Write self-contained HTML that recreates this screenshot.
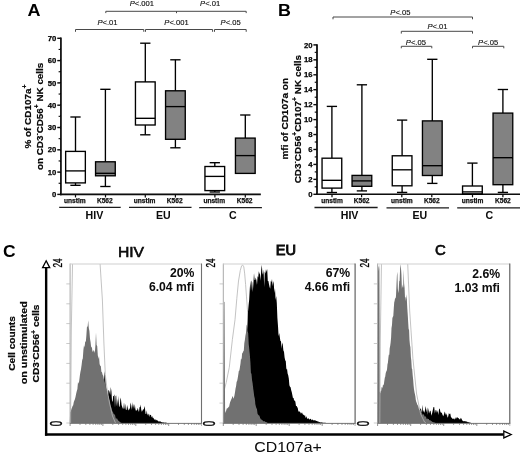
<!DOCTYPE html>
<html><head><meta charset="utf-8"><title>Figure</title>
<style>html,body{margin:0;padding:0;background:#fff;}svg{display:block;will-change:transform;}</style>
</head><body>
<svg width="520" height="453" viewBox="0 0 520 453" font-family='"Liberation Sans", Arial, sans-serif'>
<defs><filter id="soft" x="-2%" y="-2%" width="104%" height="104%"><feGaussianBlur stdDeviation="0.42"/></filter></defs>
<rect width="520" height="453" fill="#fff"/>
<g filter="url(#soft)">
<g id="panelA">
<text transform="translate(27.6,15.5) scale(1.08,1)" font-size="16.7" font-weight="bold" fill="#000">A</text>
<path d="M75.5,31.8 L75.5,29.5 L143.8,29.5 L143.8,31.8" fill="none" stroke="#484848" stroke-width="1"/><text x="107.5" y="25" text-anchor="middle" font-size="7.6" fill="#0c0c0c" stroke="#0c0c0c" stroke-width="0.12"><tspan font-style="italic">P</tspan>&lt;.01</text>
<path d="M145.5,31.8 L145.5,29.5 L212.6,29.5 L212.6,31.8" fill="none" stroke="#484848" stroke-width="1"/><text x="176.5" y="25" text-anchor="middle" font-size="7.6" fill="#0c0c0c" stroke="#0c0c0c" stroke-width="0.12"><tspan font-style="italic">P</tspan>&lt;.001</text>
<path d="M214.5,31.8 L214.5,29.5 L246.2,29.5 L246.2,31.8" fill="none" stroke="#484848" stroke-width="1"/><text x="230.6" y="25" text-anchor="middle" font-size="7.6" fill="#0c0c0c" stroke="#0c0c0c" stroke-width="0.12"><tspan font-style="italic">P</tspan>&lt;.05</text>
<path d="M105.8,13.100000000000001 L105.8,11.3 L176.5,11.3 L176.5,13.100000000000001" fill="none" stroke="#484848" stroke-width="1"/><text x="141.9" y="6.3" text-anchor="middle" font-size="7.6" fill="#0c0c0c" stroke="#0c0c0c" stroke-width="0.12"><tspan font-style="italic">P</tspan>&lt;.001</text>
<path d="M176.5,13.100000000000001 L176.5,11.3 L246.2,11.3 L246.2,13.100000000000001" fill="none" stroke="#484848" stroke-width="1"/><text x="210.1" y="6.3" text-anchor="middle" font-size="7.6" fill="#0c0c0c" stroke="#0c0c0c" stroke-width="0.12"><tspan font-style="italic">P</tspan>&lt;.01</text>
<g stroke="#080808" fill="none">
<line x1="60.9" y1="37.55" x2="60.9" y2="195.20000000000002" stroke-width="1.7"/>
<line x1="60.05" y1="194.4" x2="260.8" y2="194.4" stroke-width="1.6"/>
<line x1="57.3" y1="194.40" x2="60.9" y2="194.40" stroke-width="1.4"/>
<line x1="57.3" y1="172.10" x2="60.9" y2="172.10" stroke-width="1.4"/>
<line x1="57.3" y1="149.80" x2="60.9" y2="149.80" stroke-width="1.4"/>
<line x1="57.3" y1="127.50" x2="60.9" y2="127.50" stroke-width="1.4"/>
<line x1="57.3" y1="105.20" x2="60.9" y2="105.20" stroke-width="1.4"/>
<line x1="57.3" y1="82.90" x2="60.9" y2="82.90" stroke-width="1.4"/>
<line x1="57.3" y1="60.60" x2="60.9" y2="60.60" stroke-width="1.4"/>
<line x1="57.3" y1="38.30" x2="60.9" y2="38.30" stroke-width="1.4"/>
<line x1="58.6" y1="183.25" x2="60.9" y2="183.25" stroke-width="1.1"/>
<line x1="58.6" y1="160.95" x2="60.9" y2="160.95" stroke-width="1.1"/>
<line x1="58.6" y1="138.65" x2="60.9" y2="138.65" stroke-width="1.1"/>
<line x1="58.6" y1="116.35" x2="60.9" y2="116.35" stroke-width="1.1"/>
<line x1="58.6" y1="94.05" x2="60.9" y2="94.05" stroke-width="1.1"/>
<line x1="58.6" y1="71.75" x2="60.9" y2="71.75" stroke-width="1.1"/>
<line x1="58.6" y1="49.45" x2="60.9" y2="49.45" stroke-width="1.1"/>
<line x1="75.5" y1="194.4" x2="75.5" y2="197.4" stroke-width="1.2"/>
<line x1="105.5" y1="194.4" x2="105.5" y2="197.4" stroke-width="1.2"/>
<line x1="145.3" y1="194.4" x2="145.3" y2="197.4" stroke-width="1.2"/>
<line x1="175.4" y1="194.4" x2="175.4" y2="197.4" stroke-width="1.2"/>
<line x1="214.9" y1="194.4" x2="214.9" y2="197.4" stroke-width="1.2"/>
<line x1="245.3" y1="194.4" x2="245.3" y2="197.4" stroke-width="1.2"/>
</g>
<text x="56.4" y="197.00" text-anchor="end" font-size="7.7" font-weight="bold" fill="#080808" stroke="#080808" stroke-width="0.25">0</text>
<text x="56.4" y="174.70" text-anchor="end" font-size="7.7" font-weight="bold" fill="#080808" stroke="#080808" stroke-width="0.25">10</text>
<text x="56.4" y="152.40" text-anchor="end" font-size="7.7" font-weight="bold" fill="#080808" stroke="#080808" stroke-width="0.25">20</text>
<text x="56.4" y="130.10" text-anchor="end" font-size="7.7" font-weight="bold" fill="#080808" stroke="#080808" stroke-width="0.25">30</text>
<text x="56.4" y="107.80" text-anchor="end" font-size="7.7" font-weight="bold" fill="#080808" stroke="#080808" stroke-width="0.25">40</text>
<text x="56.4" y="85.50" text-anchor="end" font-size="7.7" font-weight="bold" fill="#080808" stroke="#080808" stroke-width="0.25">50</text>
<text x="56.4" y="63.20" text-anchor="end" font-size="7.7" font-weight="bold" fill="#080808" stroke="#080808" stroke-width="0.25">60</text>
<text x="56.4" y="40.90" text-anchor="end" font-size="7.7" font-weight="bold" fill="#080808" stroke="#080808" stroke-width="0.25">70</text>
<g stroke="#000" stroke-width="1.35">
<line x1="75.5" y1="117" x2="75.5" y2="151.4"/><line x1="75.5" y1="182.9" x2="75.5" y2="185.3"/><line x1="70.35" y1="117" x2="80.65" y2="117"/><line x1="70.35" y1="185.3" x2="80.65" y2="185.3"/><rect x="65.65" y="151.4" width="19.69999999999999" height="31.5" fill="#fff"/><line x1="65.65" y1="170.9" x2="85.35" y2="170.9"/>
<line x1="105.4" y1="89.3" x2="105.4" y2="161.8"/><line x1="105.4" y1="175.8" x2="105.4" y2="186.5"/><line x1="100.25" y1="89.3" x2="110.55000000000001" y2="89.3"/><line x1="100.25" y1="186.5" x2="110.55000000000001" y2="186.5"/><rect x="95.55000000000001" y="161.8" width="19.69999999999999" height="14.0" fill="#828282"/><line x1="95.55000000000001" y1="173.3" x2="115.25" y2="173.3"/>
<line x1="145.3" y1="43.2" x2="145.3" y2="81.9"/><line x1="145.3" y1="125" x2="145.3" y2="134.8"/><line x1="140.15" y1="43.2" x2="150.45000000000002" y2="43.2"/><line x1="140.15" y1="134.8" x2="150.45000000000002" y2="134.8"/><rect x="135.45000000000002" y="81.9" width="19.69999999999999" height="43.099999999999994" fill="#fff"/><line x1="135.45000000000002" y1="118.3" x2="155.15" y2="118.3"/>
<line x1="175.4" y1="59.8" x2="175.4" y2="90.8"/><line x1="175.4" y1="139.3" x2="175.4" y2="147.8"/><line x1="170.25" y1="59.8" x2="180.55" y2="59.8"/><line x1="170.25" y1="147.8" x2="180.55" y2="147.8"/><rect x="165.55" y="90.8" width="19.69999999999999" height="48.500000000000014" fill="#828282"/><line x1="165.55" y1="106.6" x2="185.25" y2="106.6"/>
<line x1="214.8" y1="162.7" x2="214.8" y2="166.5"/><line x1="214.8" y1="190.6" x2="214.8" y2="192"/><line x1="209.65" y1="162.7" x2="219.95000000000002" y2="162.7"/><line x1="209.65" y1="192" x2="219.95000000000002" y2="192"/><rect x="204.95000000000002" y="166.5" width="19.69999999999999" height="24.099999999999994" fill="#fff"/><line x1="204.95000000000002" y1="176.4" x2="224.65" y2="176.4"/>
<line x1="245.3" y1="115" x2="245.3" y2="138.1"/><line x1="245.3" y1="173.4" x2="245.3" y2="173.4"/><line x1="240.15" y1="115" x2="250.45000000000002" y2="115"/><rect x="235.45000000000002" y="138.1" width="19.69999999999999" height="35.30000000000001" fill="#828282"/><line x1="235.45000000000002" y1="155.6" x2="255.15" y2="155.6"/>
</g>
<text x="74.8" y="203" text-anchor="middle" font-size="6.6" font-weight="bold" fill="#111" stroke="#111" stroke-width="0.25">unstim</text>
<text x="104.8" y="203" text-anchor="middle" font-size="6.6" font-weight="bold" fill="#111" stroke="#111" stroke-width="0.25">K562</text>
<text x="144.60000000000002" y="203" text-anchor="middle" font-size="6.6" font-weight="bold" fill="#111" stroke="#111" stroke-width="0.25">unstim</text>
<text x="174.70000000000002" y="203" text-anchor="middle" font-size="6.6" font-weight="bold" fill="#111" stroke="#111" stroke-width="0.25">K562</text>
<text x="214.20000000000002" y="203" text-anchor="middle" font-size="6.6" font-weight="bold" fill="#111" stroke="#111" stroke-width="0.25">unstim</text>
<text x="244.60000000000002" y="203" text-anchor="middle" font-size="6.6" font-weight="bold" fill="#111" stroke="#111" stroke-width="0.25">K562</text>
<g stroke="#1a1a1a" stroke-width="1.3">
<line x1="59.2" y1="207.3" x2="120.7" y2="207.3"/><line x1="129" y1="207.4" x2="191.5" y2="207.4"/><line x1="199.2" y1="207.6" x2="261.9" y2="207.6"/>
</g>
<text x="94.4" y="218.6" text-anchor="middle" font-size="10.6" font-weight="bold" fill="#080808">HIV</text>
<text x="163.4" y="218.6" text-anchor="middle" font-size="10.6" font-weight="bold" fill="#080808">EU</text>
<text x="232.8" y="218.6" text-anchor="middle" font-size="10.6" font-weight="bold" fill="#080808">C</text>
<g font-size="9.6" font-weight="bold" fill="#080808" stroke="#080808" stroke-width="0.18">
<text transform="translate(30.6,148.6) rotate(-90)" textLength="64" lengthAdjust="spacingAndGlyphs">% of CD107a<tspan dy="-3.2" font-size="6.5">+</tspan></text>
<text transform="translate(42.6,170) rotate(-90)" textLength="107.3" lengthAdjust="spacingAndGlyphs">on CD3<tspan dy="-3.2" font-size="6.5">-</tspan><tspan dy="3.2">CD56</tspan><tspan dy="-3.2" font-size="6.5">+</tspan><tspan dy="3.2"> NK cells</tspan></text>
</g>
</g>
<g id="panelB">
<text transform="translate(277.9,15.5) scale(1.07,1)" font-size="16.7" font-weight="bold" fill="#000">B</text>
<path d="M333,19.3 L333,17 L472.5,17 L472.5,19.3" fill="none" stroke="#484848" stroke-width="1"/><text x="400.4" y="15.4" text-anchor="middle" font-size="7.6" fill="#0c0c0c" stroke="#0c0c0c" stroke-width="0.12"><tspan font-style="italic">P</tspan>&lt;.05</text>
<path d="M401.3,33.6 L401.3,31.3 L472.5,31.3 L472.5,33.6" fill="none" stroke="#484848" stroke-width="1"/><text x="437.5" y="28.8" text-anchor="middle" font-size="7.6" fill="#0c0c0c" stroke="#0c0c0c" stroke-width="0.12"><tspan font-style="italic">P</tspan>&lt;.01</text>
<path d="M401.3,48.3 L401.3,46.3 L431.8,46.3 L431.8,48.3" fill="none" stroke="#484848" stroke-width="1"/><text x="415.9" y="44.5" text-anchor="middle" font-size="7.6" fill="#0c0c0c" stroke="#0c0c0c" stroke-width="0.12"><tspan font-style="italic">P</tspan>&lt;.05</text>
<path d="M472.5,48.3 L472.5,46.3 L503.8,46.3 L503.8,48.3" fill="none" stroke="#484848" stroke-width="1"/><text x="488.1" y="44.5" text-anchor="middle" font-size="7.6" fill="#0c0c0c" stroke="#0c0c0c" stroke-width="0.12"><tspan font-style="italic">P</tspan>&lt;.05</text>
<g stroke="#080808" fill="none">
<line x1="317.0" y1="44.15" x2="317.0" y2="195.10000000000002" stroke-width="1.7"/>
<line x1="316.15" y1="194.3" x2="520" y2="194.3" stroke-width="1.6"/>
<line x1="313.4" y1="194.30" x2="317.0" y2="194.30" stroke-width="1.4"/>
<line x1="313.4" y1="179.36" x2="317.0" y2="179.36" stroke-width="1.4"/>
<line x1="313.4" y1="164.42" x2="317.0" y2="164.42" stroke-width="1.4"/>
<line x1="313.4" y1="149.48" x2="317.0" y2="149.48" stroke-width="1.4"/>
<line x1="313.4" y1="134.54" x2="317.0" y2="134.54" stroke-width="1.4"/>
<line x1="313.4" y1="119.60" x2="317.0" y2="119.60" stroke-width="1.4"/>
<line x1="313.4" y1="104.66" x2="317.0" y2="104.66" stroke-width="1.4"/>
<line x1="313.4" y1="89.72" x2="317.0" y2="89.72" stroke-width="1.4"/>
<line x1="313.4" y1="74.78" x2="317.0" y2="74.78" stroke-width="1.4"/>
<line x1="313.4" y1="59.84" x2="317.0" y2="59.84" stroke-width="1.4"/>
<line x1="313.4" y1="44.90" x2="317.0" y2="44.90" stroke-width="1.4"/>
<line x1="314.7" y1="186.83" x2="317.0" y2="186.83" stroke-width="1.1"/>
<line x1="314.7" y1="171.89" x2="317.0" y2="171.89" stroke-width="1.1"/>
<line x1="314.7" y1="156.95" x2="317.0" y2="156.95" stroke-width="1.1"/>
<line x1="314.7" y1="142.01" x2="317.0" y2="142.01" stroke-width="1.1"/>
<line x1="314.7" y1="127.07" x2="317.0" y2="127.07" stroke-width="1.1"/>
<line x1="314.7" y1="112.13" x2="317.0" y2="112.13" stroke-width="1.1"/>
<line x1="314.7" y1="97.19" x2="317.0" y2="97.19" stroke-width="1.1"/>
<line x1="314.7" y1="82.25" x2="317.0" y2="82.25" stroke-width="1.1"/>
<line x1="314.7" y1="67.31" x2="317.0" y2="67.31" stroke-width="1.1"/>
<line x1="314.7" y1="52.37" x2="317.0" y2="52.37" stroke-width="1.1"/>
<line x1="332" y1="194.3" x2="332" y2="197.3" stroke-width="1.2"/>
<line x1="361.6" y1="194.3" x2="361.6" y2="197.3" stroke-width="1.2"/>
<line x1="401.8" y1="194.3" x2="401.8" y2="197.3" stroke-width="1.2"/>
<line x1="431.8" y1="194.3" x2="431.8" y2="197.3" stroke-width="1.2"/>
<line x1="472.5" y1="194.3" x2="472.5" y2="197.3" stroke-width="1.2"/>
<line x1="502.9" y1="194.3" x2="502.9" y2="197.3" stroke-width="1.2"/>
</g>
<text x="312.6" y="196.90" text-anchor="end" font-size="7.7" font-weight="bold" fill="#080808" stroke="#080808" stroke-width="0.25">0</text>
<text x="312.6" y="181.96" text-anchor="end" font-size="7.7" font-weight="bold" fill="#080808" stroke="#080808" stroke-width="0.25">2</text>
<text x="312.6" y="167.02" text-anchor="end" font-size="7.7" font-weight="bold" fill="#080808" stroke="#080808" stroke-width="0.25">4</text>
<text x="312.6" y="152.08" text-anchor="end" font-size="7.7" font-weight="bold" fill="#080808" stroke="#080808" stroke-width="0.25">6</text>
<text x="312.6" y="137.14" text-anchor="end" font-size="7.7" font-weight="bold" fill="#080808" stroke="#080808" stroke-width="0.25">8</text>
<text x="312.6" y="122.20" text-anchor="end" font-size="7.7" font-weight="bold" fill="#080808" stroke="#080808" stroke-width="0.25">10</text>
<text x="312.6" y="107.26" text-anchor="end" font-size="7.7" font-weight="bold" fill="#080808" stroke="#080808" stroke-width="0.25">12</text>
<text x="312.6" y="92.32" text-anchor="end" font-size="7.7" font-weight="bold" fill="#080808" stroke="#080808" stroke-width="0.25">14</text>
<text x="312.6" y="77.38" text-anchor="end" font-size="7.7" font-weight="bold" fill="#080808" stroke="#080808" stroke-width="0.25">16</text>
<text x="312.6" y="62.44" text-anchor="end" font-size="7.7" font-weight="bold" fill="#080808" stroke="#080808" stroke-width="0.25">18</text>
<text x="312.6" y="47.50" text-anchor="end" font-size="7.7" font-weight="bold" fill="#080808" stroke="#080808" stroke-width="0.25">20</text>
<g stroke="#000" stroke-width="1.35">
<line x1="331.9" y1="106.4" x2="331.9" y2="158.2"/><line x1="331.9" y1="188.1" x2="331.9" y2="192.5"/><line x1="326.75" y1="106.4" x2="337.04999999999995" y2="106.4"/><line x1="326.75" y1="192.5" x2="337.04999999999995" y2="192.5"/><rect x="322.04999999999995" y="158.2" width="19.700000000000045" height="29.900000000000006" fill="#fff"/><line x1="322.04999999999995" y1="180.3" x2="341.75" y2="180.3"/>
<line x1="361.9" y1="84.8" x2="361.9" y2="175.4"/><line x1="361.9" y1="186.3" x2="361.9" y2="190.9"/><line x1="356.75" y1="84.8" x2="367.04999999999995" y2="84.8"/><line x1="356.75" y1="190.9" x2="367.04999999999995" y2="190.9"/><rect x="352.04999999999995" y="175.4" width="19.700000000000045" height="10.900000000000006" fill="#828282"/><line x1="352.04999999999995" y1="180.9" x2="371.75" y2="180.9"/>
<line x1="402.1" y1="120.1" x2="402.1" y2="155.8"/><line x1="402.1" y1="185.8" x2="402.1" y2="192.4"/><line x1="396.95000000000005" y1="120.1" x2="407.25" y2="120.1"/><line x1="396.95000000000005" y1="192.4" x2="407.25" y2="192.4"/><rect x="392.25" y="155.8" width="19.700000000000045" height="30.0" fill="#fff"/><line x1="392.25" y1="169.8" x2="411.95000000000005" y2="169.8"/>
<line x1="432.3" y1="59.3" x2="432.3" y2="120.9"/><line x1="432.3" y1="175.5" x2="432.3" y2="183.4"/><line x1="427.15000000000003" y1="59.3" x2="437.45" y2="59.3"/><line x1="427.15000000000003" y1="183.4" x2="437.45" y2="183.4"/><rect x="422.45" y="120.9" width="19.700000000000045" height="54.599999999999994" fill="#828282"/><line x1="422.45" y1="165.7" x2="442.15000000000003" y2="165.7"/>
<line x1="472.4" y1="163.1" x2="472.4" y2="186"/><line x1="472.4" y1="193.8" x2="472.4" y2="193.8"/><line x1="467.25" y1="163.1" x2="477.54999999999995" y2="163.1"/><rect x="462.54999999999995" y="186" width="19.700000000000045" height="7.800000000000011" fill="#fff"/><line x1="462.54999999999995" y1="191.9" x2="482.25" y2="191.9"/>
<line x1="502.9" y1="89.5" x2="502.9" y2="113.1"/><line x1="502.9" y1="184.7" x2="502.9" y2="192.4"/><line x1="497.75" y1="89.5" x2="508.04999999999995" y2="89.5"/><line x1="497.75" y1="192.4" x2="508.04999999999995" y2="192.4"/><rect x="493.04999999999995" y="113.1" width="19.700000000000045" height="71.6" fill="#828282"/><line x1="493.04999999999995" y1="157.7" x2="512.75" y2="157.7"/>
</g>
<text x="332" y="203.3" text-anchor="middle" font-size="6.6" font-weight="bold" fill="#111" stroke="#111" stroke-width="0.25">unstim</text>
<text x="361.6" y="203.3" text-anchor="middle" font-size="6.6" font-weight="bold" fill="#111" stroke="#111" stroke-width="0.25">K562</text>
<text x="401.8" y="203.3" text-anchor="middle" font-size="6.6" font-weight="bold" fill="#111" stroke="#111" stroke-width="0.25">unstim</text>
<text x="431.8" y="203.3" text-anchor="middle" font-size="6.6" font-weight="bold" fill="#111" stroke="#111" stroke-width="0.25">K562</text>
<text x="472.5" y="203.3" text-anchor="middle" font-size="6.6" font-weight="bold" fill="#111" stroke="#111" stroke-width="0.25">unstim</text>
<text x="502.9" y="203.3" text-anchor="middle" font-size="6.6" font-weight="bold" fill="#111" stroke="#111" stroke-width="0.25">K562</text>
<g stroke="#1a1a1a" stroke-width="1.3">
<line x1="314.5" y1="207.5" x2="377.6" y2="207.5"/><line x1="386.5" y1="207.8" x2="449" y2="207.8"/><line x1="457.2" y1="207.8" x2="520" y2="207.8"/>
</g>
<text x="349.6" y="218.6" text-anchor="middle" font-size="10.6" font-weight="bold" fill="#080808">HIV</text>
<text x="419.9" y="218.6" text-anchor="middle" font-size="10.6" font-weight="bold" fill="#080808">EU</text>
<text x="489.3" y="218.6" text-anchor="middle" font-size="10.6" font-weight="bold" fill="#080808">C</text>
<g font-size="9.6" font-weight="bold" fill="#080808" stroke="#080808" stroke-width="0.18">
<text transform="translate(287.6,159.5) rotate(-90)" textLength="81.5" lengthAdjust="spacingAndGlyphs">mfi of CD107a on</text>
<text transform="translate(300.6,183.3) rotate(-90)" textLength="128.3" lengthAdjust="spacingAndGlyphs">CD3<tspan dy="-3.2" font-size="6.5">-</tspan><tspan dy="3.2">CD56</tspan><tspan dy="-3.2" font-size="6.5">+</tspan><tspan dy="3.2">CD107</tspan><tspan dy="-3.2" font-size="6.5">+</tspan><tspan dy="3.2"> NK cells</tspan></text>
</g>
</g>
<g id="panelC">
<text transform="translate(3.0,256.8) scale(1.05,1)" font-size="16.6" font-weight="bold" fill="#000">C</text>
<text x="131" y="257.1" text-anchor="middle" font-size="14.6" fill="#080808" stroke="#080808" stroke-width="0.55" textLength="26.2" lengthAdjust="spacingAndGlyphs">HIV</text>
<text x="286" y="255.1" text-anchor="middle" font-size="14.6" fill="#080808" stroke="#080808" stroke-width="0.85">EU</text>
<text x="440.4" y="255.2" text-anchor="middle" font-size="14.9" fill="#080808" stroke="#080808" stroke-width="0.6">C</text>
<g font-size="9.6" font-weight="bold" fill="#080808" stroke="#080808" stroke-width="0.18">
<text transform="translate(14.7,370.8) rotate(-90)" textLength="54.7" lengthAdjust="spacingAndGlyphs">Cell counts</text>
<text transform="translate(27.2,384.3) rotate(-90)" textLength="83" lengthAdjust="spacingAndGlyphs">on unstimulated</text>
<text transform="translate(39.3,382.4) rotate(-90)" textLength="77.9" lengthAdjust="spacingAndGlyphs">CD3<tspan dy="-3.2" font-size="6.5">-</tspan><tspan dy="3.2">CD56</tspan><tspan dy="-3.2" font-size="6.5">+</tspan><tspan dy="3.2"> cells</tspan></text>
</g>
<g stroke="#000" fill="none">
<line x1="46.15" y1="267.5" x2="46.15" y2="435.7" stroke-width="2.4"/>
<line x1="44.95" y1="434.5" x2="503.8" y2="434.5" stroke-width="2.4"/>
<path d="M46.15,260.8 L49.7,267.6 L42.6,267.6 Z" fill="#fff" stroke-width="1.3"/>
<path d="M511.2,434.5 L503.8,431.1 L503.8,437.9 Z" fill="#fff" stroke-width="1.3"/>
</g>
<text x="254.2" y="451.8" font-size="15.4" fill="#080808" textLength="67.6" lengthAdjust="spacingAndGlyphs">CD107a+</text>
<line x1="70.1" y1="263.5" x2="70.1" y2="423" stroke="#a9a9a9" stroke-width="1"/><clipPath id="cp1"><rect x="69.5" y="264" width="132.0" height="159.5"/></clipPath>
<g clip-path="url(#cp1)">
<path d="M100.0,423 L100.0,423.0 L100.6,412.7 L101.2,406.0 L101.8,402.2 L102.4,386.5 L103.0,390.9 L103.6,390.6 L104.2,378.5 L104.8,371.1 L105.4,379.8 L106.0,392.7 L106.6,385.9 L107.2,393.7 L107.8,397.4 L108.4,390.1 L109.0,390.4 L109.6,392.2 L110.2,395.0 L110.8,387.0 L111.4,391.2 L112.0,400.6 L112.6,402.0 L113.2,396.0 L113.8,396.0 L114.4,394.3 L115.0,407.5 L115.6,396.0 L116.2,395.5 L116.8,406.4 L117.4,398.7 L118.0,407.0 L118.6,395.7 L119.2,406.4 L119.8,406.7 L120.4,397.6 L121.0,399.8 L121.6,404.9 L122.2,406.8 L122.8,408.4 L123.4,408.8 L124.0,402.3 L124.6,408.1 L125.2,409.8 L125.8,403.6 L126.4,409.8 L127.0,410.0 L127.6,404.8 L128.2,409.5 L128.8,410.5 L129.4,409.0 L130.0,407.9 L130.6,402.4 L131.2,405.2 L131.8,409.9 L132.4,401.9 L133.0,409.2 L133.6,403.8 L134.2,409.0 L134.8,403.9 L135.4,409.0 L136.0,411.1 L136.6,410.2 L137.2,409.9 L137.8,407.8 L138.4,410.5 L139.0,412.1 L139.6,406.9 L140.2,407.2 L140.8,404.6 L141.4,412.2 L142.0,409.3 L142.6,411.4 L143.2,409.0 L143.8,409.8 L144.4,405.9 L145.0,408.7 L145.6,413.9 L146.2,413.9 L146.8,410.2 L147.4,415.4 L148.0,413.4 L148.6,414.5 L149.2,417.0 L149.8,414.2 L150.4,415.1 L151.0,415.1 L151.6,417.4 L152.2,416.0 L152.8,418.0 L153.4,417.7 L154.0,419.1 L154.6,419.4 L155.2,420.6 L155.8,419.1 L156.4,420.2 L157.0,420.2 L157.6,420.6 L158.2,421.3 L158.8,421.6 L159.4,421.5 L160.0,421.3 L160.6,421.4 L161.2,422.2 L161.8,422.1 L162.4,422.4 L163.0,422.2 L163.6,422.4 L164.2,422.5 L164.8,422.7 L165.4,422.5 L166.0,422.7 L166.6,422.8 L167.2,422.9 L167.8,422.9 L167.8,423 Z" fill="#000"/>
<path d="M69.6,423 L69.6,423.0 L70.2,412.2 L70.8,411.4 L71.4,408.9 L72.0,407.7 L72.6,406.1 L73.2,405.3 L73.8,402.1 L74.4,400.6 L75.0,398.9 L75.6,396.6 L76.2,393.4 L76.8,391.1 L77.4,389.0 L78.0,382.1 L78.6,383.8 L79.2,381.1 L79.8,375.9 L80.4,371.9 L81.0,369.2 L81.6,365.1 L82.2,360.0 L82.8,358.5 L83.4,350.1 L84.0,345.3 L84.6,347.5 L85.2,341.1 L85.8,342.3 L86.4,335.1 L87.0,325.9 L87.6,327.2 L88.2,320.3 L88.8,328.0 L89.4,331.1 L90.0,338.8 L90.6,342.2 L91.2,347.8 L91.8,346.4 L92.4,350.9 L93.0,351.9 L93.6,349.9 L94.2,351.0 L94.8,353.0 L95.4,345.5 L96.0,332.6 L96.6,345.0 L97.2,345.9 L97.8,355.2 L98.4,359.0 L99.0,356.1 L99.6,364.0 L100.2,365.8 L100.8,365.9 L101.4,371.7 L102.0,372.3 L102.6,374.7 L103.2,375.7 L103.8,379.0 L104.4,381.1 L105.0,382.9 L105.6,385.6 L106.2,389.2 L106.8,388.9 L107.4,392.4 L108.0,395.6 L108.6,396.3 L109.2,399.4 L109.8,400.5 L110.4,404.7 L111.0,406.5 L111.6,408.5 L112.2,411.1 L112.8,411.7 L113.4,413.5 L114.0,413.9 L114.6,414.5 L115.2,415.8 L115.8,418.4 L116.4,418.6 L117.0,418.4 L117.6,419.5 L118.2,420.6 L118.8,421.0 L119.4,421.6 L120.0,421.9 L120.6,422.5 L121.2,422.8 L121.8,423.0 L121.8,423 Z" fill="#717171"/>
<path d="M70.6,423 L71.3,330 L72.6,261 L99.9,261 L102.4,300 L103.9,343 L105.3,374.6 L106.9,388 L109.5,403 L112.5,416 L115.5,423" fill="none" stroke="#b4b4b4" stroke-width="0.8"/>
</g>
<g stroke-width="1" fill="none"><line x1="70.1" y1="264" x2="201.5" y2="264" stroke="#cfcfcf"/><line x1="201.5" y1="263.5" x2="201.5" y2="423.5" stroke="#707070" stroke-width="1.1"/></g><line x1="69.6" y1="423.4" x2="202.0" y2="423.4" stroke="#666" stroke-width="0.9"/><line x1="70.1" y1="423.4" x2="70.1" y2="426.0" stroke="#666" stroke-width="0.7"/><line x1="80.0" y1="423.4" x2="80.0" y2="424.9" stroke="#666" stroke-width="0.7"/><line x1="85.8" y1="423.4" x2="85.8" y2="424.9" stroke="#666" stroke-width="0.7"/><line x1="89.9" y1="423.4" x2="89.9" y2="424.9" stroke="#666" stroke-width="0.7"/><line x1="93.1" y1="423.4" x2="93.1" y2="424.9" stroke="#666" stroke-width="0.7"/><line x1="95.7" y1="423.4" x2="95.7" y2="424.9" stroke="#666" stroke-width="0.7"/><line x1="97.9" y1="423.4" x2="97.9" y2="424.9" stroke="#666" stroke-width="0.7"/><line x1="99.8" y1="423.4" x2="99.8" y2="424.9" stroke="#666" stroke-width="0.7"/><line x1="101.4" y1="423.4" x2="101.4" y2="424.9" stroke="#666" stroke-width="0.7"/><line x1="102.9" y1="423.4" x2="102.9" y2="426.0" stroke="#666" stroke-width="0.7"/><line x1="112.8" y1="423.4" x2="112.8" y2="424.9" stroke="#666" stroke-width="0.7"/><line x1="118.6" y1="423.4" x2="118.6" y2="424.9" stroke="#666" stroke-width="0.7"/><line x1="122.7" y1="423.4" x2="122.7" y2="424.9" stroke="#666" stroke-width="0.7"/><line x1="125.9" y1="423.4" x2="125.9" y2="424.9" stroke="#666" stroke-width="0.7"/><line x1="128.5" y1="423.4" x2="128.5" y2="424.9" stroke="#666" stroke-width="0.7"/><line x1="130.7" y1="423.4" x2="130.7" y2="424.9" stroke="#666" stroke-width="0.7"/><line x1="132.6" y1="423.4" x2="132.6" y2="424.9" stroke="#666" stroke-width="0.7"/><line x1="134.3" y1="423.4" x2="134.3" y2="424.9" stroke="#666" stroke-width="0.7"/><line x1="135.8" y1="423.4" x2="135.8" y2="426.0" stroke="#666" stroke-width="0.7"/><line x1="145.7" y1="423.4" x2="145.7" y2="424.9" stroke="#666" stroke-width="0.7"/><line x1="151.5" y1="423.4" x2="151.5" y2="424.9" stroke="#666" stroke-width="0.7"/><line x1="155.6" y1="423.4" x2="155.6" y2="424.9" stroke="#666" stroke-width="0.7"/><line x1="158.8" y1="423.4" x2="158.8" y2="424.9" stroke="#666" stroke-width="0.7"/><line x1="161.4" y1="423.4" x2="161.4" y2="424.9" stroke="#666" stroke-width="0.7"/><line x1="163.6" y1="423.4" x2="163.6" y2="424.9" stroke="#666" stroke-width="0.7"/><line x1="165.5" y1="423.4" x2="165.5" y2="424.9" stroke="#666" stroke-width="0.7"/><line x1="167.1" y1="423.4" x2="167.1" y2="424.9" stroke="#666" stroke-width="0.7"/><line x1="168.7" y1="423.4" x2="168.7" y2="426.0" stroke="#666" stroke-width="0.7"/><line x1="178.5" y1="423.4" x2="178.5" y2="424.9" stroke="#666" stroke-width="0.7"/><line x1="184.3" y1="423.4" x2="184.3" y2="424.9" stroke="#666" stroke-width="0.7"/><line x1="188.4" y1="423.4" x2="188.4" y2="424.9" stroke="#666" stroke-width="0.7"/><line x1="191.6" y1="423.4" x2="191.6" y2="424.9" stroke="#666" stroke-width="0.7"/><line x1="194.2" y1="423.4" x2="194.2" y2="424.9" stroke="#666" stroke-width="0.7"/><line x1="196.4" y1="423.4" x2="196.4" y2="424.9" stroke="#666" stroke-width="0.7"/><line x1="198.3" y1="423.4" x2="198.3" y2="424.9" stroke="#666" stroke-width="0.7"/><line x1="200.0" y1="423.4" x2="200.0" y2="424.9" stroke="#666" stroke-width="0.7"/><line x1="201.5" y1="423.4" x2="201.5" y2="426" stroke="#888" stroke-width="0.6"/><line x1="66.3" y1="423.0" x2="70.1" y2="423.0" stroke="#b5b5b5" stroke-width="0.7"/><line x1="66.3" y1="403.1" x2="70.1" y2="403.1" stroke="#b5b5b5" stroke-width="0.7"/><line x1="66.3" y1="383.2" x2="70.1" y2="383.2" stroke="#b5b5b5" stroke-width="0.7"/><line x1="66.3" y1="363.4" x2="70.1" y2="363.4" stroke="#b5b5b5" stroke-width="0.7"/><line x1="66.3" y1="343.5" x2="70.1" y2="343.5" stroke="#b5b5b5" stroke-width="0.7"/><line x1="66.3" y1="323.6" x2="70.1" y2="323.6" stroke="#b5b5b5" stroke-width="0.7"/><line x1="66.3" y1="303.8" x2="70.1" y2="303.8" stroke="#b5b5b5" stroke-width="0.7"/><line x1="66.3" y1="283.9" x2="70.1" y2="283.9" stroke="#b5b5b5" stroke-width="0.7"/>
<text transform="translate(61.6,267.6) rotate(-90)" font-size="13.6" fill="#000" stroke="#000" stroke-width="0.3" textLength="9.2" lengthAdjust="spacingAndGlyphs">24</text><text transform="translate(62.0,423.5) rotate(-90) scale(0.62,1)" font-size="15.8" fill="#000" stroke="#000" stroke-width="0.45" text-anchor="middle">0</text>
<g font-size="12.2" font-weight="bold" fill="#080808" text-anchor="end"><text x="194.3" y="277.3">20%</text><text x="194.3" y="291.4">6.04 mfi</text></g>
<line x1="223.3" y1="263.5" x2="223.3" y2="423" stroke="#a9a9a9" stroke-width="1"/><clipPath id="cp2"><rect x="222.70000000000002" y="264" width="132.4" height="159.5"/></clipPath>
<g clip-path="url(#cp2)">
<path d="M223.6,423 L223.7,392 L226.2,382.7 L229.3,367.3 L232.4,339.4 L235,319.8 L236.8,298.6 L238.5,281 L240.3,270.4 L241.6,265.8 L242.6,265 L243.8,266.8 L244.7,273.9 L245.6,284.5 L246.5,296.9 L247.4,309.2 L248.3,319.8 L249.1,328.6 L252,370 L256,405 L260,423" fill="#fff" stroke="#b4b4b4" stroke-width="0.8"/>
<path d="M246.2,423 L246.2,423.0 L246.8,331.9 L247.4,326.1 L248.0,312.1 L248.6,305.1 L249.2,299.5 L249.8,288.5 L250.4,280.8 L251.0,291.0 L251.6,280.3 L252.2,282.6 L252.8,292.0 L253.4,283.3 L254.0,272.9 L254.6,280.1 L255.2,279.9 L255.8,277.4 L256.4,280.3 L257.0,285.1 L257.6,275.9 L258.2,277.5 L258.8,271.2 L259.4,273.3 L260.0,274.5 L260.6,280.8 L261.2,269.8 L261.8,264.7 L262.4,272.8 L263.0,274.8 L263.6,269.4 L264.2,287.1 L264.8,271.5 L265.4,273.5 L266.0,269.1 L266.6,271.9 L267.2,269.1 L267.8,281.1 L268.4,281.1 L269.0,284.3 L269.6,287.0 L270.2,288.7 L270.8,280.9 L271.4,282.0 L272.0,278.9 L272.6,286.2 L273.2,281.0 L273.8,283.9 L274.4,293.0 L275.0,288.2 L275.6,300.1 L276.2,295.9 L276.8,303.1 L277.4,318.1 L278.0,325.9 L278.6,336.2 L279.2,333.1 L279.8,337.1 L280.4,340.9 L281.0,341.3 L281.6,348.8 L282.2,342.5 L282.8,344.7 L283.4,350.4 L284.0,351.7 L284.6,357.5 L285.2,360.3 L285.8,361.3 L286.4,369.7 L287.0,368.4 L287.6,373.6 L288.2,375.2 L288.8,378.6 L289.4,385.2 L290.0,386.7 L290.6,387.2 L291.2,390.2 L291.8,392.3 L292.4,395.2 L293.0,398.2 L293.6,397.7 L294.2,401.2 L294.8,400.0 L295.4,401.9 L296.0,405.9 L296.6,406.0 L297.2,407.1 L297.8,408.2 L298.4,411.4 L299.0,411.5 L299.6,411.6 L300.2,411.9 L300.8,413.5 L301.4,413.2 L302.0,412.3 L302.6,414.0 L303.2,414.7 L303.8,414.7 L304.4,415.9 L305.0,414.8 L305.6,418.3 L306.2,416.3 L306.8,417.4 L307.4,419.2 L308.0,418.1 L308.6,418.6 L309.2,419.4 L309.8,419.3 L310.4,418.8 L311.0,418.9 L311.6,420.3 L312.2,420.0 L312.8,419.2 L313.4,420.4 L314.0,420.2 L314.6,420.2 L315.2,420.5 L315.8,420.6 L316.4,421.1 L317.0,421.1 L317.6,421.5 L318.2,421.3 L318.8,422.2 L319.4,422.1 L320.0,422.3 L320.6,422.4 L321.2,422.2 L321.8,422.5 L322.4,422.5 L323.0,422.8 L323.6,422.7 L324.2,422.8 L324.8,422.8 L325.4,422.8 L326.0,422.9 L326.6,422.9 L327.2,423.0 L327.8,423.0 L327.8,423 Z" fill="#000"/>
<path d="M223.4,423 L223.4,423.0 L224.0,302.0 L224.5,301.7 L225.1,412.9 L225.6,411.8 L226.2,410.4 L226.7,408.8 L227.3,407.8 L227.8,408.7 L228.4,406.5 L228.9,407.4 L229.5,404.7 L230.0,402.4 L230.6,401.1 L231.1,399.8 L231.7,398.5 L232.2,397.1 L232.8,395.9 L233.3,398.8 L233.9,397.4 L234.4,395.7 L235.0,392.3 L235.5,388.8 L236.1,386.1 L236.6,381.9 L237.2,380.7 L237.7,378.3 L238.3,374.6 L238.8,371.0 L239.4,370.4 L239.9,367.4 L240.5,363.4 L241.0,358.2 L241.6,359.7 L242.1,353.5 L242.7,352.8 L243.2,351.6 L243.8,350.6 L244.3,343.3 L244.9,339.7 L245.4,335.7 L246.0,332.8 L246.5,325.7 L247.1,324.3 L247.6,331.2 L248.2,333.1 L248.7,343.7 L249.3,349.4 L249.8,354.2 L250.4,362.0 L250.9,372.8 L251.5,374.1 L252.0,379.6 L252.6,383.3 L253.1,387.4 L253.7,392.0 L254.2,396.1 L254.8,398.6 L255.3,404.1 L255.9,406.4 L256.4,407.9 L257.0,409.2 L257.5,413.5 L258.1,414.8 L258.6,415.3 L259.2,415.4 L259.7,416.6 L260.3,418.2 L260.8,419.3 L261.4,419.7 L261.9,419.6 L262.5,420.3 L263.0,420.9 L263.6,421.2 L264.1,421.4 L264.7,421.0 L265.2,421.8 L265.8,422.1 L266.3,422.1 L266.9,422.6 L267.4,422.7 L268.0,423.0 L268.0,423 Z" fill="#717171"/>
</g>
<g stroke-width="1" fill="none"><line x1="223.3" y1="264" x2="355.1" y2="264" stroke="#cfcfcf"/><line x1="355.1" y1="263.5" x2="355.1" y2="423.5" stroke="#555" stroke-width="1.1"/></g><line x1="222.8" y1="423.4" x2="355.6" y2="423.4" stroke="#666" stroke-width="0.9"/><line x1="223.3" y1="423.4" x2="223.3" y2="426.0" stroke="#666" stroke-width="0.7"/><line x1="233.2" y1="423.4" x2="233.2" y2="424.9" stroke="#666" stroke-width="0.7"/><line x1="239.0" y1="423.4" x2="239.0" y2="424.9" stroke="#666" stroke-width="0.7"/><line x1="243.1" y1="423.4" x2="243.1" y2="424.9" stroke="#666" stroke-width="0.7"/><line x1="246.3" y1="423.4" x2="246.3" y2="424.9" stroke="#666" stroke-width="0.7"/><line x1="248.9" y1="423.4" x2="248.9" y2="424.9" stroke="#666" stroke-width="0.7"/><line x1="251.1" y1="423.4" x2="251.1" y2="424.9" stroke="#666" stroke-width="0.7"/><line x1="253.1" y1="423.4" x2="253.1" y2="424.9" stroke="#666" stroke-width="0.7"/><line x1="254.7" y1="423.4" x2="254.7" y2="424.9" stroke="#666" stroke-width="0.7"/><line x1="256.2" y1="423.4" x2="256.2" y2="426.0" stroke="#666" stroke-width="0.7"/><line x1="266.2" y1="423.4" x2="266.2" y2="424.9" stroke="#666" stroke-width="0.7"/><line x1="272.0" y1="423.4" x2="272.0" y2="424.9" stroke="#666" stroke-width="0.7"/><line x1="276.1" y1="423.4" x2="276.1" y2="424.9" stroke="#666" stroke-width="0.7"/><line x1="279.3" y1="423.4" x2="279.3" y2="424.9" stroke="#666" stroke-width="0.7"/><line x1="281.9" y1="423.4" x2="281.9" y2="424.9" stroke="#666" stroke-width="0.7"/><line x1="284.1" y1="423.4" x2="284.1" y2="424.9" stroke="#666" stroke-width="0.7"/><line x1="286.0" y1="423.4" x2="286.0" y2="424.9" stroke="#666" stroke-width="0.7"/><line x1="287.7" y1="423.4" x2="287.7" y2="424.9" stroke="#666" stroke-width="0.7"/><line x1="289.2" y1="423.4" x2="289.2" y2="426.0" stroke="#666" stroke-width="0.7"/><line x1="299.1" y1="423.4" x2="299.1" y2="424.9" stroke="#666" stroke-width="0.7"/><line x1="304.9" y1="423.4" x2="304.9" y2="424.9" stroke="#666" stroke-width="0.7"/><line x1="309.0" y1="423.4" x2="309.0" y2="424.9" stroke="#666" stroke-width="0.7"/><line x1="312.2" y1="423.4" x2="312.2" y2="424.9" stroke="#666" stroke-width="0.7"/><line x1="314.8" y1="423.4" x2="314.8" y2="424.9" stroke="#666" stroke-width="0.7"/><line x1="317.0" y1="423.4" x2="317.0" y2="424.9" stroke="#666" stroke-width="0.7"/><line x1="319.0" y1="423.4" x2="319.0" y2="424.9" stroke="#666" stroke-width="0.7"/><line x1="320.6" y1="423.4" x2="320.6" y2="424.9" stroke="#666" stroke-width="0.7"/><line x1="322.2" y1="423.4" x2="322.2" y2="426.0" stroke="#666" stroke-width="0.7"/><line x1="332.1" y1="423.4" x2="332.1" y2="424.9" stroke="#666" stroke-width="0.7"/><line x1="337.9" y1="423.4" x2="337.9" y2="424.9" stroke="#666" stroke-width="0.7"/><line x1="342.0" y1="423.4" x2="342.0" y2="424.9" stroke="#666" stroke-width="0.7"/><line x1="345.2" y1="423.4" x2="345.2" y2="424.9" stroke="#666" stroke-width="0.7"/><line x1="347.8" y1="423.4" x2="347.8" y2="424.9" stroke="#666" stroke-width="0.7"/><line x1="350.0" y1="423.4" x2="350.0" y2="424.9" stroke="#666" stroke-width="0.7"/><line x1="351.9" y1="423.4" x2="351.9" y2="424.9" stroke="#666" stroke-width="0.7"/><line x1="353.6" y1="423.4" x2="353.6" y2="424.9" stroke="#666" stroke-width="0.7"/><line x1="355.1" y1="423.4" x2="355.1" y2="426" stroke="#888" stroke-width="0.6"/><line x1="219.5" y1="423.0" x2="223.3" y2="423.0" stroke="#b5b5b5" stroke-width="0.7"/><line x1="219.5" y1="403.1" x2="223.3" y2="403.1" stroke="#b5b5b5" stroke-width="0.7"/><line x1="219.5" y1="383.2" x2="223.3" y2="383.2" stroke="#b5b5b5" stroke-width="0.7"/><line x1="219.5" y1="363.4" x2="223.3" y2="363.4" stroke="#b5b5b5" stroke-width="0.7"/><line x1="219.5" y1="343.5" x2="223.3" y2="343.5" stroke="#b5b5b5" stroke-width="0.7"/><line x1="219.5" y1="323.6" x2="223.3" y2="323.6" stroke="#b5b5b5" stroke-width="0.7"/><line x1="219.5" y1="303.8" x2="223.3" y2="303.8" stroke="#b5b5b5" stroke-width="0.7"/><line x1="219.5" y1="283.9" x2="223.3" y2="283.9" stroke="#b5b5b5" stroke-width="0.7"/>
<text transform="translate(214.9,267.6) rotate(-90)" font-size="13.6" fill="#000" stroke="#000" stroke-width="0.3" textLength="9.2" lengthAdjust="spacingAndGlyphs">24</text><text transform="translate(215.3,423.5) rotate(-90) scale(0.62,1)" font-size="15.8" fill="#000" stroke="#000" stroke-width="0.45" text-anchor="middle">0</text>
<g font-size="12.2" font-weight="bold" fill="#080808" text-anchor="end"><text x="350.1" y="277.3">67%</text><text x="350.1" y="291.4">4.66 mfi</text></g>
<line x1="377.6" y1="263.5" x2="377.6" y2="423" stroke="#a9a9a9" stroke-width="1"/><clipPath id="cp3"><rect x="377.0" y="264" width="132.79999999999998" height="159.5"/></clipPath>
<g clip-path="url(#cp3)">
<path d="M416.0,423 L416.0,423.0 L416.7,420.8 L417.4,420.2 L418.1,417.0 L418.8,415.7 L419.5,410.9 L420.2,409.0 L420.9,408.3 L421.6,413.4 L422.3,404.7 L423.0,412.4 L423.7,410.1 L424.4,413.0 L425.1,409.4 L425.8,405.9 L426.5,412.4 L427.2,407.3 L427.9,414.7 L428.6,408.1 L429.3,413.4 L430.0,410.5 L430.7,411.3 L431.4,415.7 L432.1,413.2 L432.8,409.9 L433.5,407.0 L434.2,406.9 L434.9,413.4 L435.6,410.0 L436.3,410.2 L437.0,413.1 L437.7,410.3 L438.4,415.0 L439.1,408.5 L439.8,408.9 L440.5,412.2 L441.2,412.5 L441.9,413.0 L442.6,415.1 L443.3,416.3 L444.0,414.2 L444.7,411.4 L445.4,413.4 L446.1,415.6 L446.8,413.3 L447.5,417.8 L448.2,416.4 L448.9,413.1 L449.6,414.3 L450.3,413.6 L451.0,417.6 L451.7,417.4 L452.4,419.0 L453.1,418.2 L453.8,419.1 L454.5,419.5 L455.2,417.2 L455.9,419.3 L456.6,417.5 L457.3,417.3 L458.0,418.0 L458.7,418.3 L459.4,419.2 L460.1,419.4 L460.8,417.7 L461.5,418.8 L462.2,420.2 L462.9,421.0 L463.6,421.3 L464.3,421.3 L465.0,420.9 L465.7,421.5 L466.4,421.2 L467.1,422.2 L467.8,421.8 L468.5,422.3 L469.2,422.5 L469.9,422.5 L470.6,422.8 L471.3,422.9 L472.0,423.0 L472.0,423 Z" fill="#000"/>
<path d="M377.6,423 L377.6,423.0 L378.1,267.7 L378.5,265.6 L378.9,271.0 L379.4,264.0 L379.8,391.6 L380.3,393.6 L380.7,391.2 L381.2,390.8 L381.6,387.3 L382.1,387.1 L382.5,388.6 L383.0,384.5 L383.4,385.4 L383.9,384.0 L384.3,381.0 L384.8,377.8 L385.2,376.8 L385.7,373.3 L386.1,371.8 L386.6,371.0 L387.0,369.4 L387.5,364.3 L387.9,362.7 L388.4,357.7 L388.8,354.8 L389.3,354.8 L389.7,348.2 L390.2,345.8 L390.6,342.7 L391.1,337.6 L391.5,328.1 L392.0,325.0 L392.4,318.0 L392.9,316.7 L393.3,315.9 L393.8,308.1 L394.2,302.5 L394.7,300.5 L395.1,297.7 L395.6,298.7 L396.0,295.9 L396.5,284.5 L396.9,275.6 L397.4,271.7 L397.8,288.3 L398.3,293.3 L398.7,290.0 L399.2,281.3 L399.6,280.7 L400.1,269.0 L400.5,264.0 L401.0,268.4 L401.4,274.1 L401.9,289.0 L402.3,284.4 L402.8,287.4 L403.2,287.5 L403.7,269.3 L404.1,283.5 L404.6,288.1 L405.0,297.4 L405.5,297.1 L405.9,300.9 L406.4,294.2 L406.8,298.7 L407.3,308.3 L407.7,313.9 L408.2,322.4 L408.6,328.8 L409.1,330.3 L409.5,339.9 L410.0,345.4 L410.4,347.1 L410.9,357.2 L411.3,360.3 L411.8,368.5 L412.2,368.9 L412.7,375.6 L413.1,379.1 L413.6,385.6 L414.0,389.2 L414.5,392.2 L414.9,394.0 L415.4,396.6 L415.8,400.0 L416.3,401.9 L416.7,402.7 L417.2,404.5 L417.6,405.0 L418.1,406.0 L418.5,407.1 L419.0,409.4 L419.4,410.0 L419.9,409.8 L420.3,410.2 L420.8,410.8 L421.2,412.8 L421.7,412.7 L422.1,413.4 L422.6,415.0 L423.0,414.2 L423.5,414.2 L423.9,414.7 L424.4,415.9 L424.8,416.8 L425.3,416.1 L425.7,416.8 L426.2,417.2 L426.6,418.9 L427.1,418.7 L427.5,418.6 L428.0,419.1 L428.4,419.0 L428.9,418.9 L429.3,420.3 L429.8,420.2 L430.2,420.2 L430.7,420.6 L431.1,421.3 L431.6,421.1 L432.0,421.5 L432.5,422.1 L432.9,422.0 L433.4,422.3 L433.8,422.3 L434.3,422.5 L434.7,422.6 L435.2,422.7 L435.6,422.9 L435.6,423 Z" fill="#717171"/>
<path d="M379.8,423 L380.3,340 L381.5,261 L407.6,261 L409.7,311 L412.9,358.3 L416.6,394 L420.6,414 L424.5,422 L426,423" fill="none" stroke="#b4b4b4" stroke-width="0.8"/>
</g>
<g stroke-width="1" fill="none"><line x1="377.6" y1="264" x2="509.8" y2="264" stroke="#cfcfcf"/><line x1="509.8" y1="263.5" x2="509.8" y2="423.5" stroke="#555" stroke-width="1.1"/></g><line x1="377.1" y1="423.4" x2="510.3" y2="423.4" stroke="#666" stroke-width="0.9"/><line x1="377.6" y1="423.4" x2="377.6" y2="426.0" stroke="#666" stroke-width="0.7"/><line x1="387.5" y1="423.4" x2="387.5" y2="424.9" stroke="#666" stroke-width="0.7"/><line x1="393.4" y1="423.4" x2="393.4" y2="424.9" stroke="#666" stroke-width="0.7"/><line x1="397.5" y1="423.4" x2="397.5" y2="424.9" stroke="#666" stroke-width="0.7"/><line x1="400.7" y1="423.4" x2="400.7" y2="424.9" stroke="#666" stroke-width="0.7"/><line x1="403.3" y1="423.4" x2="403.3" y2="424.9" stroke="#666" stroke-width="0.7"/><line x1="405.5" y1="423.4" x2="405.5" y2="424.9" stroke="#666" stroke-width="0.7"/><line x1="407.4" y1="423.4" x2="407.4" y2="424.9" stroke="#666" stroke-width="0.7"/><line x1="409.1" y1="423.4" x2="409.1" y2="424.9" stroke="#666" stroke-width="0.7"/><line x1="410.7" y1="423.4" x2="410.7" y2="426.0" stroke="#666" stroke-width="0.7"/><line x1="420.6" y1="423.4" x2="420.6" y2="424.9" stroke="#666" stroke-width="0.7"/><line x1="426.4" y1="423.4" x2="426.4" y2="424.9" stroke="#666" stroke-width="0.7"/><line x1="430.5" y1="423.4" x2="430.5" y2="424.9" stroke="#666" stroke-width="0.7"/><line x1="433.8" y1="423.4" x2="433.8" y2="424.9" stroke="#666" stroke-width="0.7"/><line x1="436.4" y1="423.4" x2="436.4" y2="424.9" stroke="#666" stroke-width="0.7"/><line x1="438.6" y1="423.4" x2="438.6" y2="424.9" stroke="#666" stroke-width="0.7"/><line x1="440.5" y1="423.4" x2="440.5" y2="424.9" stroke="#666" stroke-width="0.7"/><line x1="442.2" y1="423.4" x2="442.2" y2="424.9" stroke="#666" stroke-width="0.7"/><line x1="443.7" y1="423.4" x2="443.7" y2="426.0" stroke="#666" stroke-width="0.7"/><line x1="453.6" y1="423.4" x2="453.6" y2="424.9" stroke="#666" stroke-width="0.7"/><line x1="459.5" y1="423.4" x2="459.5" y2="424.9" stroke="#666" stroke-width="0.7"/><line x1="463.6" y1="423.4" x2="463.6" y2="424.9" stroke="#666" stroke-width="0.7"/><line x1="466.8" y1="423.4" x2="466.8" y2="424.9" stroke="#666" stroke-width="0.7"/><line x1="469.4" y1="423.4" x2="469.4" y2="424.9" stroke="#666" stroke-width="0.7"/><line x1="471.6" y1="423.4" x2="471.6" y2="424.9" stroke="#666" stroke-width="0.7"/><line x1="473.5" y1="423.4" x2="473.5" y2="424.9" stroke="#666" stroke-width="0.7"/><line x1="475.2" y1="423.4" x2="475.2" y2="424.9" stroke="#666" stroke-width="0.7"/><line x1="476.8" y1="423.4" x2="476.8" y2="426.0" stroke="#666" stroke-width="0.7"/><line x1="486.7" y1="423.4" x2="486.7" y2="424.9" stroke="#666" stroke-width="0.7"/><line x1="492.5" y1="423.4" x2="492.5" y2="424.9" stroke="#666" stroke-width="0.7"/><line x1="496.6" y1="423.4" x2="496.6" y2="424.9" stroke="#666" stroke-width="0.7"/><line x1="499.9" y1="423.4" x2="499.9" y2="424.9" stroke="#666" stroke-width="0.7"/><line x1="502.5" y1="423.4" x2="502.5" y2="424.9" stroke="#666" stroke-width="0.7"/><line x1="504.7" y1="423.4" x2="504.7" y2="424.9" stroke="#666" stroke-width="0.7"/><line x1="506.6" y1="423.4" x2="506.6" y2="424.9" stroke="#666" stroke-width="0.7"/><line x1="508.3" y1="423.4" x2="508.3" y2="424.9" stroke="#666" stroke-width="0.7"/><line x1="509.8" y1="423.4" x2="509.8" y2="426" stroke="#888" stroke-width="0.6"/><line x1="373.8" y1="423.0" x2="377.6" y2="423.0" stroke="#b5b5b5" stroke-width="0.7"/><line x1="373.8" y1="403.1" x2="377.6" y2="403.1" stroke="#b5b5b5" stroke-width="0.7"/><line x1="373.8" y1="383.2" x2="377.6" y2="383.2" stroke="#b5b5b5" stroke-width="0.7"/><line x1="373.8" y1="363.4" x2="377.6" y2="363.4" stroke="#b5b5b5" stroke-width="0.7"/><line x1="373.8" y1="343.5" x2="377.6" y2="343.5" stroke="#b5b5b5" stroke-width="0.7"/><line x1="373.8" y1="323.6" x2="377.6" y2="323.6" stroke="#b5b5b5" stroke-width="0.7"/><line x1="373.8" y1="303.8" x2="377.6" y2="303.8" stroke="#b5b5b5" stroke-width="0.7"/><line x1="373.8" y1="283.9" x2="377.6" y2="283.9" stroke="#b5b5b5" stroke-width="0.7"/>
<text transform="translate(369,267.6) rotate(-90)" font-size="13.6" fill="#000" stroke="#000" stroke-width="0.3" textLength="9.2" lengthAdjust="spacingAndGlyphs">24</text><text transform="translate(369.4,423.5) rotate(-90) scale(0.62,1)" font-size="15.8" fill="#000" stroke="#000" stroke-width="0.45" text-anchor="middle">0</text>
<g font-size="12.2" font-weight="bold" fill="#080808" text-anchor="end"><text x="500" y="277.9">2.6%</text><text x="500" y="292.1">1.03 mfi</text></g>
</g>
</g>
</svg>
</body></html>
